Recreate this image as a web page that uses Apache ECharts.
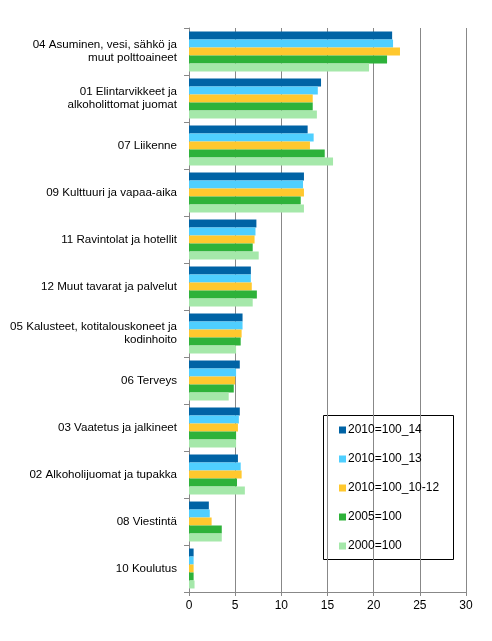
<!DOCTYPE html>
<html>
<head>
<meta charset="utf-8">
<script src="https://cdn.jsdelivr.net/npm/echarts@6/dist/echarts.min.js"></script>
<style>html,body{margin:0;padding:0;background:#fff}#c{width:492px;height:641px}</style>
</head>
<body>
<div id="c"></div>
<script>
const categories = [
  "04 Asuminen, vesi, sähkö ja\nmuut polttoaineet",
  "01 Elintarvikkeet ja\nalkoholittomat juomat",
  "07 Liikenne",
  "09 Kulttuuri ja vapaa-aika",
  "11 Ravintolat ja hotellit",
  "12 Muut tavarat ja palvelut",
  "05 Kalusteet, kotitalouskoneet ja\nkodinhoito",
  "06 Terveys",
  "03 Vaatetus ja jalkineet",
  "02 Alkoholijuomat ja tupakka",
  "08 Viestintä",
  "10 Koulutus"
];
const seriesNames = ["2010=100_14", "2010=100_13", "2010=100_10-12", "2005=100", "2000=100"];
const s2010_14    = [22.0, 14.3, 12.85, 12.45, 7.3, 6.7, 5.8, 5.5, 5.5, 5.3, 2.15, 0.5];
const s2010_13    = [22.1, 13.95, 13.5, 12.35, 7.2, 6.7, 5.8, 5.1, 5.4, 5.6, 2.25, 0.5];
const s2010_10_12 = [22.85, 13.4, 13.1, 12.45, 7.1, 6.8, 5.7, 5.0, 5.3, 5.7, 2.45, 0.5];
const s2005       = [21.45, 13.4, 14.7, 12.1, 6.9, 7.35, 5.6, 4.85, 5.1, 5.2, 3.55, 0.5];
const s2000       = [19.5, 13.85, 15.6, 12.45, 7.55, 6.9, 5.1, 4.3, 5.1, 6.05, 3.55, 0.6];
const xTicks = [0, 5, 10, 15, 20, 25, 30];

const colors = ["#0063A5", "#4FCFFF", "#FFC82E", "#2EB23A", "#A5E8AA"];
const values = [s2010_14, s2010_13, s2010_10_12, s2005, s2000];

const chart = echarts.init(document.getElementById('c'), null, {renderer: 'canvas'});
const font = "'Liberation Sans', Arial, sans-serif";
chart.setOption({
  animation: false,
  textStyle: {fontFamily: font},
  grid: {left: 189, right: 26, top: 28, bottom: 49, containLabel: false},
  xAxis: {
    type: 'value', min: xTicks[0], max: xTicks[xTicks.length - 1], interval: 5,
    axisLine: {show: true, lineStyle: {color: '#888', width: 1}},
    axisTick: {show: true, length: 4, lineStyle: {color: '#888'}},
    splitLine: {show: true, lineStyle: {color: '#888', width: 1}},
    axisLabel: {color: '#000', fontSize: 12, fontFamily: font, margin: 8}
  },
  yAxis: {
    type: 'category', data: categories, inverse: true,
    axisLine: {show: true, lineStyle: {color: '#888', width: 1}},
    axisTick: {show: true, length: 5, lineStyle: {color: '#888'}},
    axisLabel: {color: '#000', fontSize: 11.6, fontFamily: font, margin: 12, lineHeight: 13, align: 'right'}
  },
  legend: {
    orient: 'vertical', left: 339, top: 423,
    itemWidth: 7, itemHeight: 7, itemGap: 15,
    icon: 'rect',
    data: seriesNames,
    textStyle: {color: '#000', fontSize: 12, fontFamily: font, lineHeight: 14, padding: [0, 0, 0, -3]},
    padding: 0
  },
  graphic: [{
    type: 'rect', left: 323, top: 415, z: 0,
    shape: {width: 130, height: 144},
    style: {fill: '#fff', stroke: '#000', lineWidth: 1}
  }],
  series: seriesNames.map((n, i) => ({
    name: n, type: 'bar', data: values[i],
    itemStyle: {color: colors[i]},
    barGap: '0%', barCategoryGap: '15%', z: 2
  }))
});
</script>
</body>
</html>
